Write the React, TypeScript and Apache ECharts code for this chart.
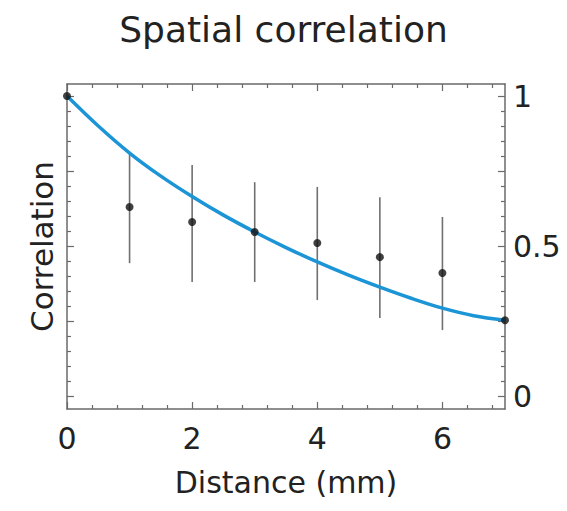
import React, { useEffect, useRef } from "react";
import * as echarts from "echarts";

// Measured points (distance in mm, mean correlation)
const pointX = [0, 1, 2, 3, 4, 5, 6, 7];
const pointY = [1.0, 0.63, 0.58, 0.547, 0.51, 0.463, 0.41, 0.253];

// Error bars (distance, low, high)
const errX = [1, 2, 3, 4, 5, 6];
const errLow = [0.443, 0.38, 0.38, 0.32, 0.26, 0.22];
const errHigh = [0.81, 0.77, 0.713, 0.697, 0.663, 0.597];

// Fitted decay curve
const curveX = [0, 0.5, 1, 1.5, 2, 2.5, 3, 3.5, 4, 4.5, 5, 5.5, 6, 6.5, 7];
const curveY = [1.0, 0.9, 0.81, 0.733, 0.665, 0.603, 0.547, 0.495, 0.447, 0.403, 0.363, 0.326, 0.293, 0.268, 0.253];

// Ticks and labels
const xMajorTicks = [0, 2, 4, 6];
const xMinorTicks = [0.4, 0.8, 1.2, 1.6, 2.4, 2.8, 3.2, 3.6, 4.4, 4.8, 5.2, 5.6, 6.4, 6.8];
const yLabelValues = [0, 0.5, 1];
const yMajorTicks = [0, 0.25, 0.5, 0.75, 1];
const yMinorTicks = [
  0.05, 0.1, 0.15, 0.2, 0.3, 0.35, 0.4, 0.45, 0.55, 0.6, 0.65, 0.7, 0.8, 0.85, 0.9, 0.95,
];

const FONT = "DejaVu Sans";
const FRAME = "#6a6a6a";
const TEXT = "#222";

export default function App() {
  const ref = useRef<HTMLDivElement>(null);

  useEffect(() => {
    if (!ref.current) return;
    const chart = echarts.init(ref.current, null, { renderer: "svg" });

    const xRange = { min: 0, max: 7 };
    const yRange = { min: -0.043, max: 1.04 };
    const tickLine = { color: FRAME, width: 1.2 };

    const xAxis = (position: string, ticks: number[], len: number, withLine: boolean, withLabel: boolean, name?: string) => ({
      type: "value",
      position,
      ...xRange,
      splitLine: { show: false },
      axisLine: { show: withLine, onZero: false, lineStyle: { color: FRAME, width: 1.5 } },
      axisTick: { show: true, inside: true, length: len, customValues: ticks, lineStyle: tickLine },
      axisLabel: withLabel
        ? { show: true, customValues: xMajorTicks, fontSize: 30, fontFamily: FONT, color: TEXT, margin: 14 }
        : { show: false },
      name: name || "",
      nameLocation: "middle",
      nameGap: 58,
      nameTextStyle: { fontSize: 30, fontFamily: FONT, color: TEXT },
    });

    const yAxis = (position: string, ticks: number[], len: number, withLine: boolean, withLabel: boolean, name?: string) => ({
      type: "value",
      position,
      ...yRange,
      splitLine: { show: false },
      axisLine: { show: withLine, onZero: false, lineStyle: { color: FRAME, width: 1.5 } },
      axisTick: { show: true, inside: true, length: len, customValues: ticks, lineStyle: tickLine },
      axisLabel: withLabel
        ? { show: true, customValues: yLabelValues, fontSize: 30, fontFamily: FONT, color: TEXT, margin: 8 }
        : { show: false },
      name: name || "",
      nameLocation: "middle",
      nameGap: 10,
      nameTextStyle: { fontSize: 31, fontFamily: FONT, color: TEXT },
    });

    chart.setOption({
      animation: false,
      backgroundColor: "#fff",
      title: {
        text: "Spatial correlation",
        left: "center",
        top: 6,
        textStyle: { fontSize: 36, fontWeight: "normal", fontFamily: FONT, color: TEXT },
      },
      grid: { left: 67, right: 62, top: 84, bottom: 102, containLabel: false, outerBoundsMode: "none" },
      xAxis: [
        xAxis("bottom", xMajorTicks, 7, true, true, "Distance (mm)"),
        xAxis("bottom", xMinorTicks, 4, false, false),
        xAxis("top", xMajorTicks, 7, true, false),
        xAxis("top", xMinorTicks, 4, false, false),
      ],
      yAxis: [
        yAxis("right", yMajorTicks, 7, true, true),
        yAxis("right", yMinorTicks, 4, false, false),
        yAxis("left", yMajorTicks, 7, true, false, "Correlation"),
        yAxis("left", yMinorTicks, 4, false, false),
      ],
      series: [
        {
          type: "custom",
          xAxisIndex: 0,
          yAxisIndex: 0,
          data: errX.map((x, i) => [x, errLow[i], errHigh[i]]),
          encode: { x: 0, y: [1, 2] },
          renderItem: (_params: any, api: any) => {
            const x = api.value(0);
            const p1 = api.coord([x, api.value(1)]);
            const p2 = api.coord([x, api.value(2)]);
            return {
              type: "line",
              shape: { x1: p1[0], y1: p1[1], x2: p2[0], y2: p2[1] },
              style: { stroke: "#707070", lineWidth: 1.6 },
            };
          },
          z: 1,
        },
        {
          type: "line",
          xAxisIndex: 0,
          yAxisIndex: 0,
          data: curveX.map((x, i) => [x, curveY[i]]),
          smooth: 0.35,
          showSymbol: false,
          lineStyle: { color: "#1c95d6", width: 3.5 },
          z: 2,
        },
        {
          type: "scatter",
          xAxisIndex: 0,
          yAxisIndex: 0,
          data: pointX.map((x, i) => [x, pointY[i]]),
          symbol: "circle",
          symbolSize: 8,
          itemStyle: { color: "#111" },
          z: 3,
        },
      ],
    });

    return () => chart.dispose();
  }, []);

  return (
    <div
      ref={ref}
      style={{ position: "fixed", left: 0, top: 0, width: 567, height: 511, background: "#fff" }}
    />
  );
}
